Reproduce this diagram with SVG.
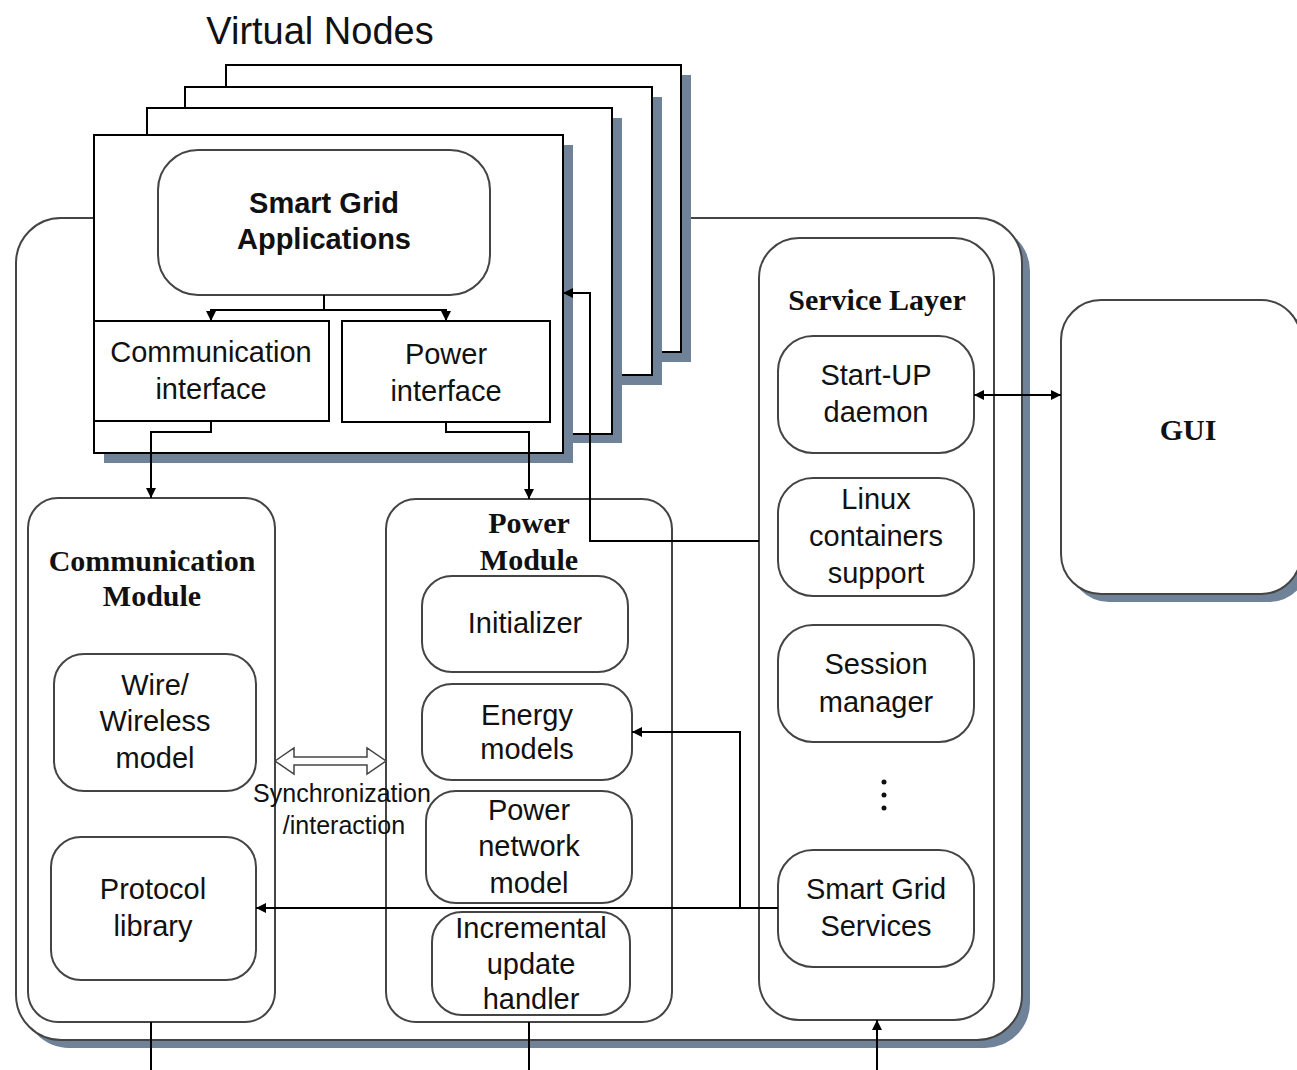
<svg xmlns="http://www.w3.org/2000/svg" width="1297" height="1070" viewBox="0 0 1297 1070">
<style>
.sh{fill:#6f8298}
.pg{fill:#fff;stroke:#000;stroke-width:2}
.rb{fill:#fff;stroke:#444;stroke-width:2}
.ln{fill:none;stroke:#000;stroke-width:2}
.t{font-family:"Liberation Sans",Arial,sans-serif;font-size:29px;fill:#111;text-anchor:middle}
.b{font-weight:bold}
.s{font-family:"Liberation Serif","Times New Roman",serif;font-weight:bold;font-size:30px;fill:#111;text-anchor:middle}
</style>
<defs>
<marker id="ah" viewBox="0 0 10 10" refX="10" refY="5" markerWidth="10" markerHeight="10" markerUnits="userSpaceOnUse" orient="auto-start-reverse">
<path d="M0,0 L10,5 L0,10 z" fill="#000"/>
</marker>
</defs>
<rect width="1297" height="1070" fill="#fff"/>
<text x="320" y="44" class="t" style="font-size:38px">Virtual Nodes</text>

<g id="container">
<rect x="24" y="226" width="1006" height="822" rx="45" class="sh"/>
<rect x="16" y="218" width="1006" height="822" rx="45" class="rb"/>
</g>

<g id="gui">
<rect x="1069" y="308" width="240" height="294" rx="40" class="sh"/>
<rect x="1061" y="300" width="240" height="294" rx="40" class="rb"/>
<text x="1188" y="440" class="s">GUI</text>
</g>

<g id="virtual-nodes">
<rect x="236" y="75" width="455" height="287" class="sh"/>
<rect x="226" y="65" width="455" height="287" class="pg"/>
<rect x="195" y="97" width="467" height="288" class="sh"/>
<rect x="185" y="87" width="467" height="288" class="pg"/>
<rect x="157" y="118" width="465" height="325" class="sh"/>
<rect x="147" y="108" width="465" height="326" class="pg"/>
<rect x="104" y="145" width="469" height="318" class="sh"/>
<rect x="94" y="135" width="469" height="318" class="pg"/>
</g>

<g id="smart-grid-apps">
<rect x="158" y="150" width="332" height="145" rx="40" class="rb"/>
<text x="324" y="213" class="t b">Smart Grid</text>
<text x="324" y="249" class="t b">Applications</text>
</g>
<g id="comm-interface">
<rect x="94" y="321" width="235" height="100" class="pg"/>
<text x="211" y="362" class="t">Communication</text>
<text x="211" y="399" class="t">interface</text>
</g>
<g id="power-interface">
<rect x="342" y="321" width="208" height="101" class="pg"/>
<text x="446" y="364" class="t">Power</text>
<text x="446" y="401" class="t">interface</text>
</g>

<g id="comm-module">
<rect x="28" y="498" width="247" height="524" rx="30" class="rb"/>
<text x="152" y="571" class="s">Communication</text>
<text x="152" y="606" class="s">Module</text>
</g>
<g id="wire-model">
<rect x="54" y="654" width="202" height="137" rx="30" class="rb"/>
<text x="155" y="695" class="t">Wire/</text>
<text x="155" y="731" class="t">Wireless</text>
<text x="155" y="768" class="t">model</text>
</g>
<g id="protocol-library">
<rect x="51" y="837" width="205" height="143" rx="30" class="rb"/>
<text x="153" y="899" class="t">Protocol</text>
<text x="153" y="936" class="t">library</text>
</g>

<g id="power-module">
<rect x="386" y="499" width="286" height="523" rx="30" class="rb"/>
<text x="529" y="533" class="s">Power</text>
<text x="529" y="570" class="s">Module</text>
</g>
<g id="initializer">
<rect x="422" y="576" width="206" height="96" rx="30" class="rb"/>
<text x="525" y="633" class="t">Initializer</text>
</g>
<g id="energy-models">
<rect x="422" y="684" width="210" height="96" rx="30" class="rb"/>
<text x="527" y="725" class="t">Energy</text>
<text x="527" y="759" class="t">models</text>
</g>
<g id="power-network-model">
<rect x="426" y="791" width="206" height="112" rx="30" class="rb"/>
<text x="529" y="820" class="t">Power</text>
<text x="529" y="856" class="t">network</text>
<text x="529" y="893" class="t">model</text>
</g>
<g id="incremental-update">
<rect x="432" y="912" width="198" height="103" rx="30" class="rb"/>
<text x="531" y="938" class="t">Incremental</text>
<text x="531" y="974" class="t">update</text>
<text x="531" y="1009" class="t">handler</text>
</g>

<g id="service-layer">
<rect x="759" y="238" width="235" height="782" rx="40" class="rb"/>
<text x="877" y="310" class="s">Service Layer</text>
</g>
<g id="startup-daemon">
<rect x="778" y="336" width="196" height="117" rx="35" class="rb"/>
<text x="876" y="385" class="t">Start-UP</text>
<text x="876" y="422" class="t">daemon</text>
</g>
<g id="linux-containers">
<rect x="778" y="478" width="196" height="118" rx="35" class="rb"/>
<text x="876" y="509" class="t">Linux</text>
<text x="876" y="546" class="t">containers</text>
<text x="876" y="583" class="t">support</text>
</g>
<g id="session-manager">
<rect x="778" y="625" width="196" height="117" rx="35" class="rb"/>
<text x="876" y="674" class="t">Session</text>
<text x="876" y="712" class="t">manager</text>
</g>
<g id="dots">
<circle cx="884" cy="782" r="2.5" fill="#111"/>
<circle cx="884" cy="795" r="2.5" fill="#111"/>
<circle cx="884" cy="808" r="2.5" fill="#111"/>
</g>
<g id="smart-grid-services">
<rect x="778" y="850" width="196" height="117" rx="35" class="rb"/>
<text x="876" y="899" class="t">Smart Grid</text>
<text x="876" y="936" class="t">Services</text>
</g>

<g id="connectors">
<path d="M324,295 V310" class="ln"/>
<path d="M324,310 H211 V321" class="ln" marker-end="url(#ah)"/>
<path d="M324,310 H446 V321" class="ln" marker-end="url(#ah)"/>
<path d="M211,421 V432 H151 V498" class="ln" marker-end="url(#ah)"/>
<path d="M446,422 V432 H529 V499" class="ln" marker-end="url(#ah)"/>
<path d="M759,541 H590 V293 H563" class="ln" marker-end="url(#ah)"/>
<path d="M974,395 H1061" class="ln" marker-start="url(#ah)" marker-end="url(#ah)"/>
<path d="M778,908 H256" class="ln" marker-end="url(#ah)"/>
<path d="M740,908 V732 H632" class="ln" marker-end="url(#ah)"/>
<path d="M151,1022 V1070" class="ln"/>
<path d="M529,1022 V1070" class="ln"/>
<path d="M877,1070 V1020" class="ln" marker-end="url(#ah)"/>
<polygon points="275,761 294,748 294,757 367,757 367,748 386,761 367,774 367,765 294,765 294,774" fill="#fff" stroke="#444" stroke-width="1.5"/>
<text x="342" y="802" class="t" style="font-size:25px">Synchronization</text>
<text x="344" y="834" class="t" style="font-size:25px">/interaction</text>
</g>
</svg>
